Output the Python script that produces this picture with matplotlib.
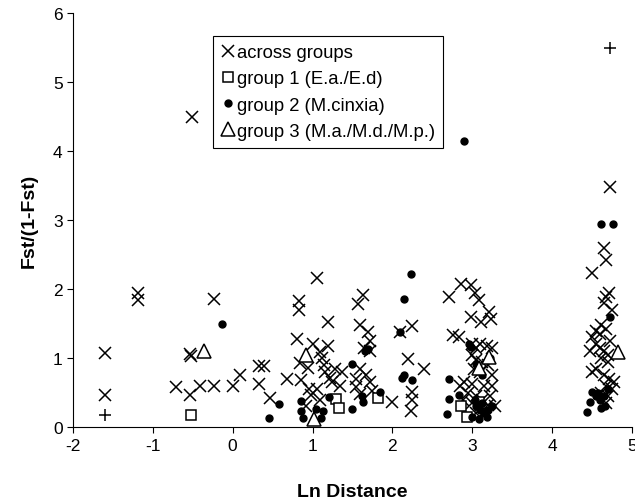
import matplotlib.pyplot as plt
import numpy as np

plt.rcParams['font.family'] = ['Liberation Sans', 'DejaVu Sans']
plt.rcParams['axes.unicode_minus'] = False

# across groups (x markers)
across_x = [-1.60, -1.60, -1.19, -1.19, -0.51, -0.53, -0.52, -0.53, -0.71, -0.41,
            -0.23, -0.23, 0.00, 0.09, 0.33, 0.39, 0.33, 0.47,
            0.68, 0.81, 0.83, 0.83, 0.84, 0.86, 0.94, 0.98, 0.92, 1.06, 1.01, 1.09,
            1.12, 1.14, 1.19, 1.19, 1.16, 1.22, 1.24, 1.37, 1.34, 1.05, 1.10, 1.28, 0.95,
            1.57, 1.63, 1.59, 1.70, 1.72, 1.59, 1.54, 1.54, 1.59, 1.72, 1.65, 1.72, 1.74, 1.67,
            2.10, 2.25, 2.19, 2.25, 2.25, 2.24, 2.00, 2.40,
            2.71, 2.86, 2.98, 3.04, 3.09, 2.98, 3.11, 3.21, 3.24, 2.76, 2.83, 3.00, 3.05,
            3.10, 3.18, 3.25, 3.00, 3.05, 3.12, 3.20, 3.02, 3.10, 3.25, 2.90, 2.85, 3.00,
            3.15, 3.25, 2.95, 3.05, 3.12, 3.22, 3.00, 3.10, 3.20, 3.28, 3.15, 3.05, 2.88,
            4.73, 4.65, 4.68, 4.50, 4.72, 4.68, 4.65, 4.75, 4.55, 4.62, 4.68, 4.50, 4.55,
            4.60, 4.65, 4.70, 4.48, 4.62, 4.70, 4.55, 4.50, 4.65, 4.72, 4.78, 4.68, 4.75,
            4.62, 4.70, 4.68, 4.73, 4.60]
across_y = [1.07, 0.47, 1.94, 1.84, 4.50, 1.06, 1.03, 0.46, 0.58, 0.60,
            0.59, 1.86, 0.59, 0.75, 0.89, 0.88, 0.63, 0.43,
            0.70, 1.28, 1.83, 1.70, 0.93, 0.68, 0.86, 0.46, 0.30, 2.16, 1.20, 1.09,
            1.00, 0.90, 1.53, 1.18, 0.80, 0.72, 0.65, 0.80, 0.60, 0.55, 0.40, 0.85, 0.55,
            1.79, 1.91, 1.48, 1.38, 1.25, 0.85, 0.70, 0.58, 0.48, 1.10, 1.15, 0.65, 0.53, 0.75,
            1.38, 1.46, 0.99, 0.51, 0.40, 0.24, 0.36, 0.85,
            1.89, 2.08, 2.06, 1.94, 1.84, 1.60, 1.52, 1.67, 1.57, 1.33, 1.31, 1.20, 1.15,
            1.20, 1.17, 1.15, 1.05, 0.97, 0.95, 0.90, 0.85, 0.80, 0.75, 0.65, 0.60, 0.62,
            0.60, 0.60, 0.50, 0.45, 0.40, 0.45, 0.35, 0.30, 0.32, 0.30, 0.22, 0.20, 0.40,
            3.48, 2.59, 2.42, 2.23, 1.95, 1.88, 1.80, 1.70, 1.40, 1.48, 1.43, 1.30, 1.20,
            1.15, 1.10, 1.05, 1.10, 1.00, 0.95, 0.85, 0.80, 0.75, 0.70, 0.65, 0.60, 0.55,
            0.50, 0.45, 0.35, 1.25, 1.35]

# group 1 (squares)
g1_x = [-0.52, 1.29, 1.33, 1.82, 2.86, 2.93, 3.09]
g1_y = [0.17, 0.41, 0.28, 0.42, 0.30, 0.15, 0.36]

# group 2 (filled circles)
g2_x = [-0.13, 2.90, 4.61, 4.76, 2.24, 2.15, 2.10, 2.12, 2.14, 2.25, 4.73, 0.58, 0.46,
        0.86, 0.85, 0.88, 1.04, 1.13, 1.11, 1.21, 1.49, 1.49, 1.63, 1.62, 1.66, 1.70,
        1.85, 2.71, 2.71, 2.68, 2.96, 2.99, 2.83, 3.05, 3.10, 3.15, 3.00, 3.08, 3.20,
        3.25, 3.12, 3.03, 3.18, 3.05, 3.12, 4.44, 4.48, 4.50, 4.58, 4.62, 4.60, 4.65,
        4.70, 4.55, 4.66, 3.22]
g2_y = [1.50, 4.15, 2.94, 2.95, 2.22, 1.86, 1.38, 0.72, 0.75, 0.69, 1.60, 0.34, 0.13,
        0.38, 0.24, 0.14, 0.26, 0.24, 0.14, 0.44, 0.92, 0.27, 0.36, 0.45, 1.11, 1.13,
        0.51, 0.70, 0.41, 0.19, 1.21, 1.16, 0.46, 0.30, 0.25, 0.20, 0.15, 0.12, 0.25,
        0.30, 0.35, 0.40, 0.15, 0.92, 0.75, 0.22, 0.36, 0.51, 0.50, 0.28, 0.40, 0.45,
        0.55, 0.45, 0.30, 1.00]

# group 3 (open triangles)
g3_x = [-0.36, 0.92, 1.02, 3.09, 3.21, 4.83]
g3_y = [1.11, 1.05, 0.12, 0.86, 1.02, 1.09]

# unlabelled points (plus signs)
plus_x = [-1.60, 4.73]
plus_y = [0.18, 5.49]

fig = plt.figure(figsize=(6.35, 5.02), dpi=100)
ax = fig.add_axes([0.115, 0.147, 0.88, 0.825])

ax.plot(across_x, across_y, 'x', color='black', ms=9, mew=1.1, ls='none',
        label='across groups')
ax.plot(g1_x, g1_y, 's', mfc='white', mec='black', ms=7.5, mew=1.1, ls='none',
        label='group 1 (E.a./E.d)')
ax.plot(g2_x, g2_y, 'o', color='black', ms=5, ls='none',
        label='group 2 (M.cinxia)')
ax.plot(g3_x, g3_y, '^', mfc='white', mec='black', ms=10, mew=1.1, ls='none',
        label='group 3 (M.a./M.d./M.p.)')
ax.plot(plus_x, plus_y, '+', color='black', ms=9, mew=1.1, ls='none')

ax.set_xlim(-2, 5)
ax.set_ylim(0, 6)
ax.set_xticks(np.arange(-2, 6, 1))
ax.set_yticks(np.arange(0, 7, 1))
ax.tick_params(direction='out', length=4, width=0.8, labelsize=12.5)
ax.spines['top'].set_visible(False)
ax.spines['right'].set_visible(False)

ax.set_xlabel('Ln Distance', fontsize=14, fontweight='bold', labelpad=22)
ax.set_ylabel('Fst/(1-Fst)', fontsize=14, fontweight='bold', labelpad=11)

leg = ax.legend(loc='upper left', bbox_to_anchor=(0.25, 0.945), fontsize=13.3,
                handlelength=0.7, handletextpad=0.15, borderpad=0.45,
                labelspacing=0.5, borderaxespad=0, fancybox=False, framealpha=1)
leg.get_frame().set_edgecolor('black')
leg.get_frame().set_linewidth(0.8)

fig.savefig('out.png', dpi=100)
